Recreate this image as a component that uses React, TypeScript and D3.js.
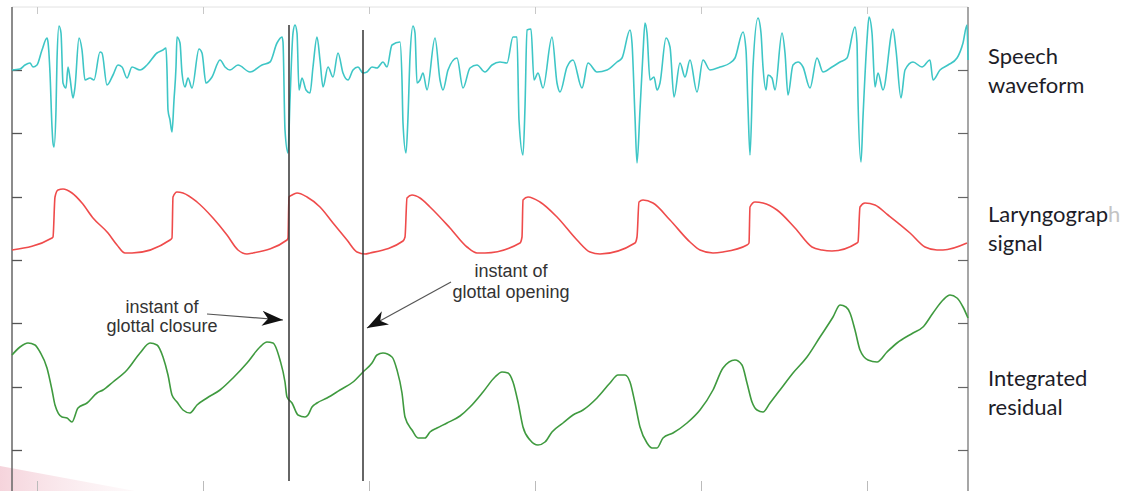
import React, { useEffect, useRef } from 'react';
import * as d3 from 'd3';

// time in samples, amplitude in arbitrary units (all three traces share one axis)
const speech: [number, number][] = [
  [0, 415], [8, 416], [13, 420], [18, 422], [21, 418], [25, 420], [30, 435], [35, 447], [36, 443],
  [38, 412], [40, 358], [41, 342], [42, 338], [44, 375], [45, 425], [47, 459], [49, 452], [51, 402],
  [54, 397], [56, 418], [58, 407], [61, 387], [63, 398], [67, 447], [70, 435], [73, 405], [78, 407],
  [82, 405], [88, 433], [90, 432], [95, 400], [101, 410], [106, 420], [110, 418], [115, 407],
  [120, 418], [128, 415], [135, 420], [145, 432], [151, 435], [154, 437], [155, 415], [156, 375],
  [158, 365], [160, 353], [162, 385], [164, 418], [165, 448], [168, 442], [170, 412], [173, 398],
  [176, 407], [180, 397], [187, 436], [190, 432], [194, 402], [200, 408], [208, 425], [213, 418],
  [218, 415], [226, 420], [238, 413], [250, 420], [258, 423], [265, 442], [270, 448], [271, 443],
  [273, 355], [276, 332], [278, 385], [281, 452], [283, 460], [285, 452], [287, 395], [290, 407],
  [294, 395], [298, 392], [301, 418], [305, 448], [308, 425], [311, 398], [316, 418], [321, 408],
  [326, 432], [331, 412], [336, 405], [341, 415], [346, 418], [351, 412], [355, 413], [360, 418],
  [365, 417], [371, 423], [375, 418], [380, 440], [388, 443], [390, 405], [391, 362], [394, 332],
  [396, 368], [398, 428], [401, 459], [403, 452], [405, 402], [408, 405], [411, 412], [415, 395],
  [423, 447], [428, 405], [431, 395], [436, 415], [445, 427], [451, 397], [458, 417], [465, 420],
  [473, 413], [480, 420], [488, 423], [495, 422], [501, 448], [505, 448], [507, 365], [511, 330],
  [513, 378], [515, 455], [519, 456], [522, 405], [526, 412], [531, 397], [540, 448], [545, 402],
  [548, 393], [555, 418], [561, 425], [570, 397], [576, 422], [585, 413], [595, 415], [605, 423],
  [610, 427], [618, 455], [620, 442], [623, 368], [625, 322], [628, 375], [631, 432], [633, 462],
  [635, 452], [638, 405], [642, 408], [645, 395], [648, 402], [654, 447], [658, 438], [662, 388],
  [668, 422], [673, 408], [678, 425], [685, 393], [691, 425], [698, 415], [708, 418], [718, 422],
  [723, 427], [731, 453], [734, 435], [736, 378], [738, 330], [741, 418], [746, 467], [749, 452],
  [751, 418], [754, 395], [756, 410], [760, 407], [763, 395], [770, 452], [773, 432], [776, 390],
  [781, 420], [786, 423], [791, 418], [798, 397], [805, 427], [811, 413], [820, 418], [828, 423],
  [835, 427], [843, 458], [845, 442], [846, 385], [849, 323], [851, 368], [855, 445], [857, 468],
  [860, 452], [863, 398], [866, 412], [871, 395], [881, 456], [884, 435], [889, 387], [893, 415],
  [901, 423], [910, 418], [918, 425], [921, 405], [928, 415], [936, 420], [945, 427], [951, 442],
  [955, 460], [956, 425]
];

const laryngograph: [number, number][] = [
  [0, 235], [40, 247], [41, 248], [43, 288], [46, 295], [51, 296], [60, 292], [70, 282], [81, 267],
  [96, 252], [105, 240], [113, 232], [120, 232], [158, 245], [160, 247], [161, 288], [165, 293],
  [171, 292], [185, 283], [201, 267], [215, 250], [226, 235], [235, 231], [241, 232], [275, 245],
  [276, 247], [277, 288], [280, 290], [285, 292], [295, 288], [308, 278], [321, 262], [335, 245],
  [345, 233], [353, 231], [358, 232], [391, 244], [393, 248], [395, 287], [400, 290], [408, 287],
  [418, 278], [438, 257], [455, 238], [465, 232], [473, 232], [508, 242], [510, 248], [511, 285],
  [516, 288], [528, 283], [545, 268], [565, 245], [578, 233], [588, 231], [623, 242], [625, 248],
  [627, 283], [631, 285], [641, 282], [658, 265], [678, 243], [688, 235], [701, 232], [711, 233],
  [735, 240], [737, 242], [738, 278], [743, 283], [751, 282], [765, 275], [783, 257], [800, 238],
  [810, 235], [820, 234], [845, 242], [846, 243], [848, 278], [853, 282], [863, 280], [876, 270],
  [898, 252], [913, 238], [925, 235], [931, 235], [955, 242]
];

const residual: [number, number][] = [
  [0, 130], [8, 138], [16, 142], [23, 140], [28, 133], [35, 117], [40, 95], [43, 80], [50, 68],
  [55, 67], [60, 63], [66, 77], [75, 82], [85, 92], [91, 95], [101, 103], [115, 115], [128, 132],
  [138, 142], [145, 140], [151, 128], [156, 110], [160, 90], [165, 83], [171, 75], [178, 72],
  [185, 80], [195, 87], [208, 95], [221, 107], [235, 122], [248, 138], [255, 143], [261, 142],
  [268, 125], [273, 103], [275, 88], [280, 82], [286, 70], [293, 68], [296, 70], [300, 78],
  [305, 82], [315, 87], [328, 95], [341, 103], [351, 113], [360, 122], [365, 130], [371, 132],
  [380, 128], [385, 115], [390, 92], [393, 68], [400, 55], [406, 47], [413, 47], [418, 53],
  [425, 57], [435, 62], [448, 69], [458, 78], [471, 93], [483, 108], [490, 113], [496, 112],
  [501, 103], [506, 83], [511, 58], [518, 45], [526, 40], [533, 43], [540, 53], [551, 62],
  [561, 70], [571, 75], [585, 87], [598, 102], [606, 110], [613, 110], [618, 103], [623, 82],
  [628, 58], [635, 42], [640, 37], [645, 37], [651, 47], [661, 52], [675, 62], [688, 75],
  [701, 95], [711, 117], [723, 125], [730, 120], [735, 102], [740, 83], [745, 75], [751, 73],
  [758, 82], [768, 95], [781, 112], [795, 128], [808, 148], [821, 168], [828, 180], [834, 178],
  [838, 172], [843, 155], [848, 135], [856, 125], [865, 123], [875, 133], [885, 142], [901, 152],
  [911, 158], [921, 172], [931, 185], [938, 190], [945, 187], [951, 178], [956, 167]
];

const xTicks = [25, 191, 357, 523, 689, 855];
const yTicks = [35, 98, 162, 225, 288, 352, 415];
const instants = [277, 351];

const W = 1131;
const H = 491;

export default function App() {
  const svgRef = useRef<SVGSVGElement>(null);

  useEffect(() => {
    if (!svgRef.current) return;
    const svg = d3.select(svgRef.current);
    svg.selectAll('*').remove();

    const x = d3.scaleLinear().domain([0, 956]).range([12, 968]);
    const y = d3.scaleLinear().domain([-6, 478]).range([491, 7]);

    const defs = svg.append('defs');
    defs.append('marker')
      .attr('id', 'head')
      .attr('viewBox', '-21 -8 22 16')
      .attr('refX', 0)
      .attr('refY', 0)
      .attr('markerUnits', 'userSpaceOnUse')
      .attr('markerWidth', 22)
      .attr('markerHeight', 16)
      .attr('orient', 'auto')
      .append('path')
      .attr('d', 'M0,0 L-21,-7.5 L-15,0 L-21,7.5 Z')
      .attr('fill', '#111');

    const grad = defs.append('linearGradient')
      .attr('id', 'pink')
      .attr('x1', 0).attr('x2', 1).attr('y1', 0).attr('y2', 0);
    grad.append('stop').attr('offset', 0).attr('stop-color', '#f3c9d3').attr('stop-opacity', 0.8);
    grad.append('stop').attr('offset', 1).attr('stop-color', '#f8e3e8').attr('stop-opacity', 0.2);

    svg.append('rect').attr('width', W).attr('height', H).attr('fill', '#fff');

    // pink slide decoration bottom-left
    svg.append('path')
      .attr('d', 'M0,466 L135,491 L0,491 Z')
      .attr('fill', 'url(#pink)');

    // axes box
    const fmt = () => '';
    svg.append('g')
      .attr('transform', `translate(0,${y(478)})`)
      .call(d3.axisTop(x).tickValues(xTicks).tickSize(-7).tickFormat(fmt))
      .call(g => g.select('.domain').attr('stroke', '#e2e2e2').attr('d', `M12,0H968`))
      .call(g => g.selectAll('.tick line').attr('stroke', '#c8c8c8'));

    svg.append('g')
      .attr('transform', `translate(0,${y(-6)})`)
      .call(d3.axisBottom(x).tickValues(xTicks).tickSize(-10).tickFormat(fmt))
      .call(g => g.select('.domain').remove())
      .call(g => g.selectAll('.tick line').attr('stroke', '#bbb'));

    svg.append('g')
      .attr('transform', `translate(${x(0)},0)`)
      .call(d3.axisLeft(y).tickValues(yTicks).tickSize(-10).tickFormat(fmt))
      .call(g => g.select('.domain').attr('stroke', '#666').attr('stroke-width', 1.5).attr('d', `M0,${y(478)}V${y(-6)}`))
      .call(g => g.selectAll('.tick line').attr('stroke', '#555').attr('stroke-width', 1.3));

    svg.append('g')
      .attr('transform', `translate(${x(956)},0)`)
      .call(d3.axisRight(y).tickValues(yTicks).tickSize(-10).tickFormat(fmt))
      .call(g => g.select('.domain').attr('stroke', '#777').attr('stroke-width', 1.3).attr('d', `M0,${y(478)}V${y(-6)}`))
      .call(g => g.selectAll('.tick line').attr('stroke', '#666').attr('stroke-width', 1.2));

    const line = d3.line<[number, number]>()
      .x(d => x(d[0]))
      .y(d => y(d[1]))
      .curve(d3.curveMonotoneX);

    const series: { data: [number, number][]; color: string }[] = [
      { data: speech, color: '#3ec6c6' },
      { data: laryngograph, color: '#ef4b4b' },
      { data: residual, color: '#3f9a3f' }
    ];
    series.forEach(s => {
      svg.append('path')
        .datum(s.data)
        .attr('d', line)
        .attr('fill', 'none')
        .attr('stroke', s.color)
        .attr('stroke-width', 1.6)
        .attr('stroke-linejoin', 'round');
    });

    // instants of closure / opening
    svg.selectAll('line.instant')
      .data(instants)
      .join('line')
      .attr('class', 'instant')
      .attr('x1', d => x(d))
      .attr('x2', d => x(d))
      .attr('y1', (d, i) => y(i === 0 ? 460 : 455))
      .attr('y2', y(4))
      .attr('stroke', '#333')
      .attr('stroke-width', 1.5);

    const annFont = '"Liberation Sans", Arial, sans-serif';
    const ann = [
      { lines: ['instant of', 'glottal closure'], t: 150, v: [172, 153], from: [195, 171], to: [271, 165] },
      { lines: ['instant of', 'glottal opening'], t: 499, v: [208, 187], from: [439, 203], to: [355, 157] }
    ];
    ann.forEach(a => {
      a.lines.forEach((txt, i) => {
        svg.append('text')
          .attr('x', x(a.t))
          .attr('y', y(a.v[i]))
          .attr('text-anchor', 'middle')
          .attr('font-family', annFont)
          .attr('font-size', 18)
          .attr('fill', '#333')
          .text(txt);
      });
      svg.append('line')
        .attr('x1', x(a.from[0]))
        .attr('y1', y(a.from[1]))
        .attr('x2', x(a.to[0]))
        .attr('y2', y(a.to[1]))
        .attr('stroke', '#555')
        .attr('stroke-width', 1.2)
        .attr('marker-end', 'url(#head)');
    });

    // right-hand labels
    const labFont = 'Lato, "Open Sans", sans-serif';
    const labels = [
      { lines: ['Speech', 'waveform'], v: 421 },
      { lines: ['Laryngograph', 'signal'], v: 263 },
      { lines: ['Integrated', 'residual'], v: 99 }
    ];
    labels.forEach(l => {
      l.lines.forEach((txt, i) => {
        const t = svg.append('text')
          .attr('x', 988)
          .attr('y', y(l.v) + i * 29)
          .attr('font-family', labFont)
          .attr('font-size', 22)
          .attr('fill', '#1d1d28');
        if (txt === 'Laryngograph') {
          t.append('tspan').text('Laryngograp');
          t.append('tspan').attr('fill', '#c4c4c4').text('h');
        } else {
          t.text(txt);
        }
      });
    });
  }, []);

  return (
    <svg
      ref={svgRef}
      width={W}
      height={H}
      viewBox={`0 0 ${W} ${H}`}
      style={{ position: 'absolute', left: 0, top: 0, display: 'block' }}
    />
  );
}
